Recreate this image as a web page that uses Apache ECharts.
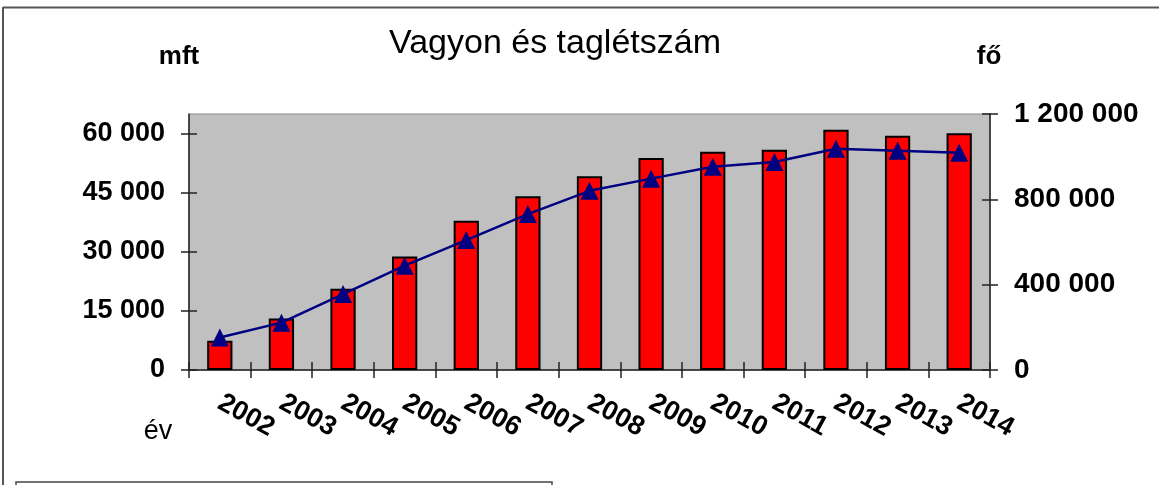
<!DOCTYPE html>
<html>
<head>
<meta charset="utf-8">
<script src="https://cdn.jsdelivr.net/npm/echarts@6/dist/echarts.min.js"></script>
<style>
  html, body { margin: 0; padding: 0; background: #fff; }
  #chart { width: 1159px; height: 485px; }
</style>
</head>
<body>
<div id="chart"></div>
<script>
// évek
const years = ['2002', '2003', '2004', '2005', '2006', '2007', '2008', '2009', '2010', '2011', '2012', '2013', '2014'];
// vagyon (mft)
const vagyon = [7400, 13100, 20600, 28800, 37900, 44100, 49200, 53800, 55400, 55900, 61000, 59500, 60100];
// taglétszám (fő)
const taglet = [152000, 222000, 356000, 489000, 609000, 731000, 840000, 897000, 953000, 975000, 1037000, 1028000, 1018000];
// tengely jelölők
const leftTicks = [0, 15000, 30000, 45000, 60000];
const rightTicks = [0, 400000, 800000, 1200000];

const fmt = v => String(v).replace(/\B(?=(\d{3})+(?!\d))/g, ' ');

const font = 'Liberation Sans, Arial, sans-serif';
const axisColor = '#222';
const tickStyle = { color: axisColor, width: 1.5 };
const plotRect = { left: 189, right: 169, top: 114, bottom: 115 };

const chart = echarts.init(document.getElementById('chart'));

chart.setOption({
  animation: false,
  title: {
    text: 'Vagyon és taglétszám',
    left: 550,
    top: 22,
    textAlign: 'center',
    textStyle: { fontFamily: font, fontSize: 34, fontWeight: 'normal', color: '#000' }
  },
  grid: [
    Object.assign({
      show: true,
      backgroundColor: '#c0c0c0',
      borderColor: '#888',
      borderWidth: 1
    }, plotRect),
    // második rács ugyanott, csak a befelé álló jelölőknek
    Object.assign({ show: false }, plotRect)
  ],
  xAxis: [
    {
      type: 'category',
      data: years,
      axisLine: { lineStyle: { color: axisColor, width: 1.5 } },
      axisTick: { show: true, length: 8, lineStyle: tickStyle },
      axisLabel: {
        interval: 0, rotate: -29, margin: 31,
        fontFamily: font, fontSize: 27, fontWeight: 'bold', color: '#000'
      }
    },
    {
      gridIndex: 1,
      type: 'category',
      data: years,
      axisLine: { show: false },
      axisTick: { show: true, inside: true, length: 8, lineStyle: tickStyle },
      axisLabel: { show: false }
    }
  ],
  yAxis: [
    {
      type: 'value',
      min: 0, max: 65000,
      position: 'left',
      splitLine: { show: false },
      axisLine: { show: true, lineStyle: { color: axisColor, width: 1.5 } },
      axisTick: { show: true, length: 8, customValues: leftTicks, lineStyle: tickStyle },
      axisLabel: {
        customValues: leftTicks, margin: 24, formatter: fmt,
        fontFamily: font, fontSize: 27, fontWeight: 'bold', color: '#000'
      }
    },
    {
      type: 'value',
      min: 0, max: 1200000, interval: 400000,
      position: 'right',
      splitLine: { show: false },
      axisLine: { show: true, lineStyle: { color: axisColor, width: 1.5 } },
      axisTick: { show: true, length: 8, lineStyle: tickStyle },
      axisLabel: {
        customValues: rightTicks, margin: 24, formatter: fmt,
        fontFamily: font, fontSize: 28, fontWeight: 'bold', color: '#000'
      }
    },
    {
      gridIndex: 1,
      type: 'value',
      min: 0, max: 65000,
      position: 'left',
      splitLine: { show: false },
      axisLine: { show: false },
      axisTick: { show: true, inside: true, length: 8, customValues: leftTicks, lineStyle: tickStyle },
      axisLabel: { show: false }
    },
    {
      gridIndex: 1,
      type: 'value',
      min: 0, max: 1200000, interval: 400000,
      position: 'right',
      splitLine: { show: false },
      axisLine: { show: false },
      axisTick: { show: true, inside: true, length: 8, lineStyle: tickStyle },
      axisLabel: { show: false }
    }
  ],
  series: [
    {
      name: 'vagyon',
      type: 'bar',
      data: vagyon,
      barWidth: '41%',
      itemStyle: { color: '#ff0000', borderColor: '#000', borderWidth: 2 }
    },
    {
      name: 'taglétszám',
      type: 'line',
      yAxisIndex: 1,
      data: taglet,
      symbol: 'triangle',
      symbolSize: 18,
      z: 5,
      lineStyle: { color: '#000080', width: 2.5 },
      itemStyle: { color: '#000080' }
    },
    // láthatatlan sorozatok a második rácshoz
    {
      type: 'line', xAxisIndex: 1, yAxisIndex: 2, data: vagyon,
      symbol: 'none', silent: true, lineStyle: { opacity: 0 }
    },
    {
      type: 'line', xAxisIndex: 1, yAxisIndex: 3, data: taglet,
      symbol: 'none', silent: true, lineStyle: { opacity: 0 }
    }
  ],
  graphic: [
    // keret
    { type: 'line', shape: { x1: 3, y1: 7.5, x2: 1159, y2: 7.5 }, style: { stroke: '#555', lineWidth: 2 } },
    { type: 'line', shape: { x1: 3, y1: 7, x2: 3, y2: 485 }, style: { stroke: '#555', lineWidth: 2 } },
    // jelmagyarázat doboz (levágva)
    { type: 'rect', shape: { x: 16, y: 482, width: 536, height: 20 }, style: { fill: '#fff', stroke: '#444', lineWidth: 1.5 } },
    // tengelynevek
    { type: 'text', x: 179, y: 57, style: { text: 'mft', font: 'bold 26px ' + font, fill: '#000', textAlign: 'center', textVerticalAlign: 'middle' } },
    { type: 'text', x: 989, y: 57, style: { text: 'fő', font: 'bold 26px ' + font, fill: '#000', textAlign: 'center', textVerticalAlign: 'middle' } },
    { type: 'text', x: 158, y: 432, style: { text: 'év', font: 'normal 27px ' + font, fill: '#000', textAlign: 'center', textVerticalAlign: 'middle' } }
  ]
});
</script>
</body>
</html>
